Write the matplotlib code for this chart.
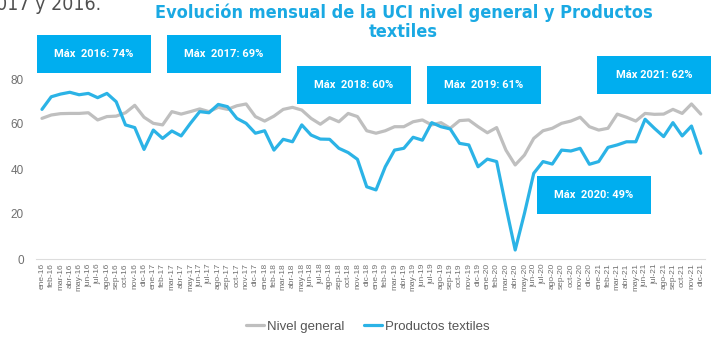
import matplotlib
matplotlib.use("Agg")
import matplotlib.pyplot as plt
import numpy as np

# month labels ene-16 .. dic-21
meses = ["ene", "feb", "mar", "abr", "may", "jun", "jul", "ago", "sep", "oct", "nov", "dic"]
anios = ["16", "17", "18", "19", "20", "21"]
etiquetas = [m + "-" + a for a in anios for m in meses]

# Nivel general (UCI, %)
nivel_general = [
    62.5, 64.0, 64.6, 64.7, 64.7, 65.0, 61.8, 63.3, 63.5, 65.0, 68.3, 63.0,
    60.3, 59.6, 65.5, 64.4, 65.5, 66.7, 65.5, 67.4, 66.5, 68.1, 68.9, 63.3,
    61.3, 63.5, 66.5, 67.4, 66.2, 62.5, 59.9, 62.8, 61.0, 64.7, 63.3, 57.0,
    55.9, 57.0, 58.8, 58.8, 61.0, 61.8, 59.6, 60.6, 58.1, 61.5, 61.8, 58.8,
    56.1, 58.4, 48.4, 41.8, 46.2, 53.6, 57.0, 58.1, 60.3, 61.3, 63.0, 58.8,
    57.3, 58.1, 64.4, 63.0, 61.3, 64.7, 64.3, 64.4, 66.5, 64.7, 68.9, 64.4,
]

# Productos textiles (UCI, %)
textiles = [
    66.5, 72.1, 73.3, 74.1, 73.0, 73.6, 71.7, 73.6, 69.9, 59.6, 58.4, 48.7,
    57.3, 53.6, 56.9, 54.7, 60.3, 65.5, 65.0, 68.7, 67.7, 62.5, 60.3, 55.9,
    57.0, 48.4, 53.2, 52.1, 59.6, 55.1, 53.3, 53.2, 49.2, 47.3, 44.3, 32.1,
    30.7, 41.0, 48.4, 49.2, 54.1, 52.8, 60.6, 58.8, 57.8, 51.4, 50.7, 41.0,
    44.4, 43.3, 23.3, 4.0, 20.3, 38.1, 43.3, 42.2, 48.4, 48.0, 49.2, 42.1,
    43.3, 49.6, 50.7, 52.1, 52.1, 62.1, 58.1, 54.4, 60.6, 54.7, 59.1, 47.0,
]

# annotation boxes: text, left px, top px (figure pixels)
cajas = [
    ("Máx  2016: 74%", 37, 35),
    ("Máx  2017: 69%", 167, 35),
    ("Máx  2018: 60%", 297, 66),
    ("Máx  2019: 61%", 427, 66),
    ("Máx  2020: 49%", 537, 176),
    ("Máx 2021: 62%", 597, 56),
]

W, H = 725, 339
GRIS = "#BFBFBF"
AZUL = "#2BB3E6"
CAJA = "#00AEEF"

fig = plt.figure(figsize=(W / 100, H / 100), dpi=100)
ax = fig.add_axes([36.4 / W, 80 / H, 669 / W, 191.25 / H])

x = np.arange(len(etiquetas))
ax.plot(x, nivel_general, color=GRIS, lw=2.3, solid_joinstyle="round",
        solid_capstyle="round", label="Nivel general")
ax.plot(x, textiles, color=AZUL, lw=2.3, solid_joinstyle="round",
        solid_capstyle="round", label="Productos textiles")

ax.set_xlim(-0.6, 71.5)
ax.set_ylim(0, 85)
ax.set_yticks([0, 20, 40, 60, 80])
ax.set_xticks(x)
ax.set_xticklabels(etiquetas, rotation=90, fontsize=6, color="#707070",
                   family="Liberation Sans")
for lab in ax.get_yticklabels():
    lab.set_fontsize(8.5)
    lab.set_color("#707070")
    lab.set_family("Liberation Sans")
ax.tick_params(axis="both", length=0)
ax.tick_params(axis="y", pad=9)
ax.tick_params(axis="x", pad=3)
for s in ["top", "right", "left"]:
    ax.spines[s].set_visible(False)
ax.spines["bottom"].set_color("#DDDDDD")
ax.spines["bottom"].set_linewidth(0.8)

leg = ax.legend(loc="upper center", bbox_to_anchor=(0.495, -0.26), ncol=2,
                frameon=False, handlelength=1.4, handletextpad=0.2,
                columnspacing=1.5, prop={"family": "Liberation Sans", "size": 9.5})
for t in leg.get_texts():
    t.set_color("#555555")

# title
fig.text(403.5 / W, 1 - 3 / H,
         "Evolución mensual de la UCI nivel general y Productos\ntextiles",
         ha="center", va="top", color="#1AA9E3", fontsize=13, fontweight="bold",
         family="DejaVu Sans", fontstretch="condensed", linespacing=1.12)

# cut-off text from the slide
fig.text(-15 / W, 1 - 10 / H, "2017 y 2016.", ha="left", va="baseline",
         color="#505050", fontsize=14, family="DejaVu Sans",
         fontstretch="condensed")

# boxes
for texto, left, top in cajas:
    bw, bh = 114, 38
    fig.patches.append(plt.Rectangle((left / W, 1 - (top + bh) / H), bw / W, bh / H,
                                     transform=fig.transFigure, facecolor=CAJA,
                                     edgecolor="none", zorder=5))
    fig.text((left + bw / 2) / W, 1 - (top + bh / 2) / H, texto, ha="center",
             va="center", color="white", fontsize=8, fontweight="bold",
             family="Roboto", zorder=6)

fig.savefig("out.png", dpi=100)
